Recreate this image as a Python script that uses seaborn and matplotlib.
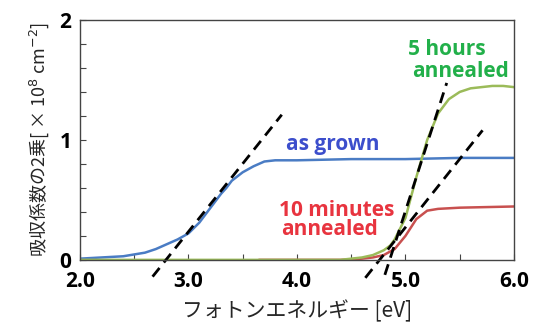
import matplotlib
matplotlib.use("Agg")
import matplotlib.pyplot as plt
import seaborn as sns
from matplotlib.ticker import MultipleLocator, FormatStrFormatter

# as grown
blue_x = [2.0, 2.2, 2.4, 2.5, 2.6, 2.7, 2.75, 2.8, 2.9, 3.0, 3.1, 3.2, 3.3, 3.35, 3.4, 3.5, 3.6, 3.7, 3.8, 4.0, 4.5, 5.0, 5.5, 6.0]
blue_y = [0.01, 0.02, 0.03, 0.045, 0.06, 0.09, 0.11, 0.13, 0.17, 0.22, 0.31, 0.43, 0.55, 0.60, 0.66, 0.73, 0.78, 0.82, 0.83, 0.83, 0.84, 0.84, 0.85, 0.85]

# 10 minutes annealed
red_x = [3.65, 4.0, 4.4, 4.6, 4.7, 4.8, 4.9, 5.0, 5.1, 5.2, 5.3, 5.5, 6.0]
red_y = [0.0, 0.0, 0.0, 0.01, 0.02, 0.04, 0.09, 0.20, 0.34, 0.41, 0.425, 0.435, 0.445]

# 5 hours annealed
green_x = [2.0, 3.0, 4.0, 4.4, 4.5, 4.6, 4.7, 4.8, 4.86, 4.9, 5.0, 5.1, 5.2, 5.3, 5.4, 5.5, 5.6, 5.8, 5.9, 6.0]
green_y = [0.0, 0.0, 0.0, 0.0, 0.01, 0.02, 0.04, 0.08, 0.12, 0.17, 0.35, 0.69, 1.0, 1.22, 1.34, 1.40, 1.43, 1.45, 1.45, 1.44]

# tangent lines (end points)
tan_blue_x, tan_blue_y = [2.67, 3.86], [-0.14, 1.21]
tan_red_x, tan_red_y = [4.63, 5.71], [-0.15, 1.08]
tan_green_x, tan_green_y = [4.81, 5.38], [-0.125, 1.475]

sns.set_theme(style="ticks")
plt.rcParams['font.family'] = ['Noto Sans CJK JP', 'DejaVu Sans']
label_font = ["Open Sans", "DejaVu Sans"]

fig = plt.figure(figsize=(5.36, 3.22), dpi=100)
ax = fig.add_axes([0.149, 0.193, 0.81, 0.745])

sns.lineplot(x=blue_x, y=blue_y, color="#4a7cc4", lw=1.8, ax=ax)
sns.lineplot(x=red_x, y=red_y, color="#c8504f", lw=1.8, ax=ax)
sns.lineplot(x=green_x, y=green_y, color="#9bbb59", lw=1.8, ax=ax)
for tx, ty in [(tan_blue_x, tan_blue_y), (tan_red_x, tan_red_y), (tan_green_x, tan_green_y)]:
    ax.plot(tx, ty, color="black", lw=2, dashes=(4, 2.5), clip_on=False)

txt = dict(fontsize=15, fontweight="bold", family=label_font, ha="center", va="center")
ax.text(4.33, 0.96, "as grown", color="#3c4ecc", **txt)
ax.text(4.37, 0.41, "10 minutes", color="#e8343f", **txt)
ax.text(4.30, 0.25, "annealed", color="#e8343f", **txt)
ax.text(5.38, 1.75, "5 hours", color="#22b04a", **txt)
ax.text(5.51, 1.57, "annealed", color="#22b04a", **txt)

ax.set_xlim(2.0, 6.0)
ax.set_ylim(0, 2)
ax.xaxis.set_major_locator(MultipleLocator(1.0))
ax.xaxis.set_minor_locator(MultipleLocator(0.5))
ax.yaxis.set_major_locator(MultipleLocator(1.0))
ax.yaxis.set_minor_locator(MultipleLocator(0.2))
ax.xaxis.set_major_formatter(FormatStrFormatter("%.1f"))
ax.yaxis.set_major_formatter(FormatStrFormatter("%d"))
ax.tick_params(which="both", direction="in", length=4, width=0.8, colors="#444444")
ax.tick_params(axis="x", which="both", top=False, pad=8)
ax.tick_params(axis="y", pad=6)
ax.tick_params(labelsize=15, labelcolor="black")
for lab in ax.get_xticklabels() + ax.get_yticklabels():
    lab.set_fontweight("bold")
    lab.set_family(label_font)
for sp in ax.spines.values():
    sp.set_visible(True)
    sp.set_color("#444444")
    sp.set_linewidth(1)

ax.set_xlabel("フォトンエネルギー [eV]", fontsize=15, labelpad=6)
ax.set_ylabel("吸収係数の2乗[ × 10$^{8}$ cm$^{-2}$]", fontsize=13, labelpad=6)

fig.savefig("out.png", dpi=100)
